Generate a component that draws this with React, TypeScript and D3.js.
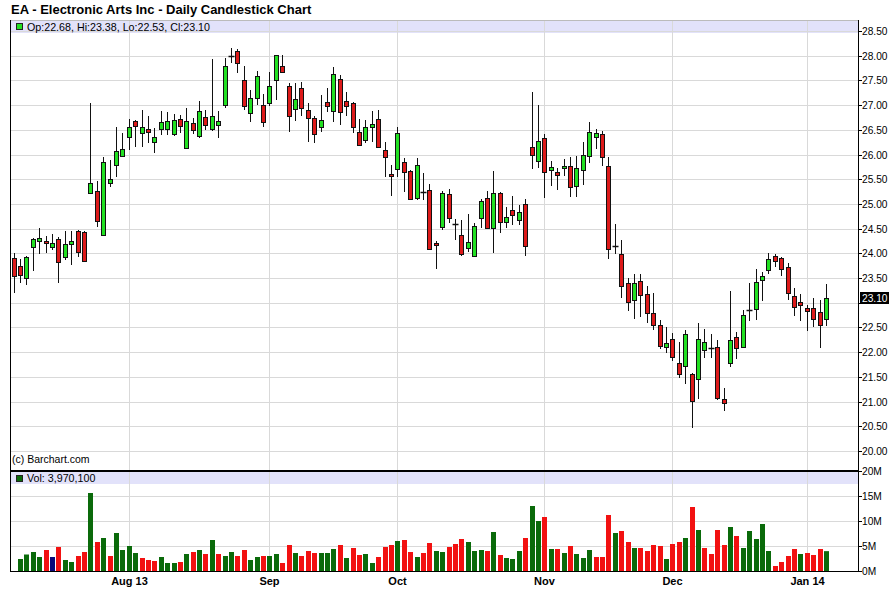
import * as d3 from "d3";

// daily OHLC, EA, Jul 8 2013 .. Jan 7 2014 (one entry per trading day)
const openP = [
  23.9, 23.74, 23.51, 24.12, 24.26, 24.26, 24.12, 24.3, 23.92, 24.18,
  24.46, 24.44, 25.23, 25.27, 24.38, 25.42, 25.78, 25.97, 26.35, 26.68,
  26.43, 26.51, 26.25, 26.51, 26.51, 26.41, 26.71, 26.14, 26.63, 26.37,
  26.75, 26.52, 26.59, 27.01, 27.99, 28.1, 27.51, 26.85, 27.14, 27.0,
  27.04, 27.5, 27.79, 27.38, 26.93, 27.34, 26.91, 26.73, 26.55, 27.06,
  26.88, 27.52, 27.08, 27.04, 26.45, 26.29, 26.55, 26.71, 26.09, 25.6,
  25.7, 25.84, 25.67, 25.13, 25.25, 25.28, 24.21, 24.54, 25.21, 24.59,
  24.37, 24.1, 23.95, 24.72, 25.12, 24.51, 25.23, 24.64, 24.88, 24.67,
  24.99, 26.15, 25.87, 26.33, 25.69, 25.64, 25.72, 25.76, 25.37, 25.68,
  25.97, 26.35, 26.41, 25.76, 24.15, 23.98, 23.39, 23.05, 23.45, 23.18,
  22.79, 22.54, 22.1, 22.27, 21.79, 21.73, 21.55, 21.45, 22.04, 22.09,
  22.1, 21.06, 21.79, 22.3, 22.11, 22.85, 22.87, 23.47, 23.66, 23.95,
  23.9, 23.72, 23.14, 23.01, 22.9, 22.89, 22.82, 22.68,
];
const highP = [
  24.0, 23.88, 23.95, 24.31, 24.51, 24.36, 24.4, 24.33, 24.46, 24.46,
  24.47, 24.45, 27.04, 25.46, 25.96, 25.89, 26.56, 26.43, 26.71, 26.7,
  26.9, 26.78, 26.53, 26.88, 26.87, 26.82, 26.8, 26.95, 26.73, 27.08,
  26.9, 27.93, 26.88, 27.95, 28.15, 28.14, 27.79, 27.31, 27.7, 27.22,
  27.68, 28.02, 28.01, 27.44, 27.44, 27.47, 27.04, 26.77, 27.2, 27.34,
  27.78, 27.6, 27.27, 27.06, 26.71, 26.69, 26.89, 26.9, 26.25, 25.79,
  26.56, 25.92, 25.69, 25.92, 25.62, 25.4, 24.25, 25.26, 25.3, 24.69,
  24.67, 24.8, 24.61, 25.09, 25.26, 25.67, 25.25, 24.94, 25.16, 24.97,
  25.09, 27.27, 27.0, 26.41, 25.87, 25.72, 25.91, 25.96, 25.98, 26.25,
  26.66, 26.51, 26.47, 25.96, 24.59, 24.27, 23.51, 23.59, 23.58, 23.34,
  23.2, 22.65, 22.5, 22.39, 22.2, 22.44, 21.57, 22.6, 22.46, 22.36,
  22.24, 21.27, 23.24, 22.4, 22.85, 23.39, 23.68, 23.63, 24.01, 23.98,
  23.93, 23.8, 23.29, 23.18, 22.95, 23.09, 23.05, 23.38,
];
const lowP = [
  23.19, 23.41, 23.35, 23.65, 23.99, 24.0, 24.07, 23.41, 23.86, 23.76,
  23.92, 23.82, 25.21, 24.53, 24.36, 25.35, 25.55, 25.94, 26.09, 26.16,
  26.16, 26.23, 26.04, 26.39, 26.39, 26.37, 26.43, 26.12, 26.41, 26.33,
  26.5, 26.48, 26.33, 26.95, 27.85, 27.64, 26.9, 26.66, 27.0, 26.56,
  26.98, 27.1, 27.65, 26.46, 26.67, 26.77, 26.26, 26.24, 26.45, 26.86,
  26.65, 26.6, 26.77, 26.43, 26.17, 26.23, 26.26, 26.15, 25.55, 25.17,
  25.55, 25.25, 25.08, 25.08, 25.08, 24.06, 23.68, 24.47, 24.61, 24.27,
  23.95, 24.03, 23.94, 24.52, 24.49, 24.01, 24.42, 24.51, 24.57, 24.57,
  23.95, 25.7, 25.72, 25.13, 25.36, 25.28, 25.57, 25.15, 25.15, 25.38,
  25.82, 26.12, 25.77, 23.88, 23.98, 23.1, 22.84, 22.68, 22.72, 22.6,
  22.45, 22.06, 21.99, 21.83, 21.48, 21.35, 20.47, 21.06, 21.89, 21.89,
  21.03, 20.8, 21.7, 21.87, 22.1, 22.64, 22.65, 23.03, 23.58, 23.73,
  23.55, 23.05, 22.74, 22.64, 22.43, 22.51, 22.09, 22.53,
];
const closeP = [
  23.55, 23.57, 23.92, 24.29, 24.32, 24.2, 24.2, 23.82, 24.18, 24.26,
  24.02, 23.84, 25.42, 24.65, 25.84, 25.5, 26.08, 26.12, 26.55, 26.58,
  26.55, 26.45, 26.35, 26.65, 26.67, 26.69, 26.57, 26.67, 26.49, 26.89,
  26.59, 26.77, 26.67, 27.79, 27.99, 27.86, 26.99, 27.14, 27.59, 26.65,
  27.39, 28.01, 27.68, 26.77, 27.12, 26.95, 26.73, 26.41, 26.69, 26.98,
  27.62, 26.87, 26.99, 26.55, 26.19, 26.56, 26.61, 26.16, 25.96, 25.56,
  26.43, 25.64, 25.09, 25.78, 25.25, 24.08, 24.16, 25.23, 24.72, 24.59,
  23.98, 24.22, 24.56, 25.05, 24.51, 25.23, 24.63, 24.74, 24.77, 24.84,
  24.14, 26.0, 26.27, 25.64, 25.74, 25.58, 25.76, 25.34, 25.72, 26.0,
  26.45, 26.43, 25.96, 24.08, 24.15, 23.34, 23.01, 23.41, 23.15, 22.79,
  22.55, 22.12, 22.18, 21.91, 21.55, 22.36, 21.02, 22.26, 22.2, 22.09,
  21.08, 20.98, 22.25, 22.08, 22.76, 22.85, 23.43, 23.55, 23.88, 23.84,
  23.68, 23.19, 22.91, 22.95, 22.84, 22.68, 22.54, 23.1,
];
// volume in millions (first day's bar is not shown)
const volumeM: (number | null)[] = [
  null, 2.4, 3.3, 3.8, 2.8, 4.2, 2.8, 4.8, 2.2, 1.8, 3.0,
  3.8, 15.6, 5.8, 6.6, 3.0, 7.6, 4.2, 5.0, 3.6, 2.6,
  2.2, 2.0, 2.8, 1.6, 1.6, 1.8, 3.4, 3.8, 4.2, 3.4,
  6.2, 3.4, 3.0, 3.8, 3.0, 4.2, 2.2, 2.8, 3.0, 3.0,
  3.4, 1.6, 5.2, 3.6, 3.0, 4.0, 3.6, 3.6, 3.6, 4.4,
  5.2, 2.6, 4.6, 3.2, 3.4, 1.6, 2.8, 4.8, 5.2, 6.0,
  6.2, 3.8, 2.8, 3.6, 5.6, 4.0, 3.8, 4.8, 5.4, 6.4,
  5.8, 4.0, 4.2, 4.0, 7.8, 3.2, 2.6, 2.4, 4.0, 6.6,
  13.0, 10.0, 10.8, 4.4, 4.4, 3.6, 5.0, 3.4, 2.6, 4.2,
  2.8, 2.8, 11.2, 7.6, 8.0, 5.8, 4.6, 4.6, 4.0, 5.2,
  5.0, 2.4, 5.4, 5.8, 6.6, 12.8, 8.2, 4.6, 3.4, 8.2,
  5.2, 8.8, 7.0, 4.6, 8.0, 6.4, 9.4, 4.0, 1.0, 1.8,
  3.0, 4.4, 3.4, 3.6, 3.2, 4.4, 3.97,
];
const monthIdx = [18, 40, 60, 83, 103, 124];
const monthLabels = ["Aug 13", "Sep", "Oct", "Nov", "Dec", "Jan 14"];
const volTicks = [0, 5, 10, 15, 20];
const lastVolume = "3,970,100";

const FONT = "'Liberation Sans', Arial, sans-serif";
const UP = "#22e022";
const DOWN = "#dd1a1a";
const GRID = "#d9d9d9";

export default function App() {
  const left = 10;
  const right = 858;
  const priceTop = 20;
  const priceBottom = 470;
  const volTop = 471;
  const volBottom = 571;
  const n = closeP.length;

  const x = d3.scaleLinear().domain([0, n - 1]).range([13.6, 825.9]);
  const y = d3.scaleLinear().domain([20, 28.5]).range([451, 31]);
  const yv = d3.scaleLinear().domain([0, 20]).range([volBottom, volTop]);
  const priceTicks = d3.ticks(20, 28.5, 17);
  const fmt = d3.format(".2f");
  const last = n - 1;

  const px = (i: number) => Math.round(x(i));
  const py = (v: number) => Math.round(y(v));
  const lastY = py(closeP[last]);

  const volColor = (i: number) => {
    if (closeP[i] > closeP[i - 1]) return "#0a6a0a";
    if (closeP[i] < closeP[i - 1]) return "#f21111";
    return "#0a0a7a";
  };

  return (
    <svg
      width={892}
      height={591}
      style={{ position: "absolute", left: 0, top: 0, background: "#fff" }}
      fontFamily={FONT}
    >
      <rect width={892} height={591} fill="#fff" />
      <text x={11} y={14} fontSize={13} fontWeight="bold" fill="#000">
        EA - Electronic Arts Inc - Daily Candlestick Chart
      </text>

      {/* header strips */}
      <rect x={left} y={priceTop} width={right - left} height={13} fill="#e2e2fa" />
      <rect x={left} y={volTop + 1} width={right - left} height={12} fill="#e2e2fa" />

      {/* price grid */}
      {priceTicks.map((t) => (
        <line key={"h" + t} x1={left} x2={right} y1={py(t) + 0.5} y2={py(t) + 0.5} stroke={GRID} />
      ))}
      {[5, 10, 15].map((t) => (
        <line key={"vh" + t} x1={left} x2={right} y1={Math.round(yv(t)) + 0.5} y2={Math.round(yv(t)) + 0.5} stroke={GRID} />
      ))}
      {monthIdx.map((m) => (
        <g key={"m" + m}>
          <line x1={px(m) + 0.5} x2={px(m) + 0.5} y1={priceTop} y2={priceBottom} stroke={GRID} />
          <line x1={px(m) + 0.5} x2={px(m) + 0.5} y1={volTop} y2={volBottom} stroke={GRID} />
        </g>
      ))}
      <line x1={left} x2={right} y1={priceTop + 0.5} y2={priceTop + 0.5} stroke="#bbb" />

      {/* volume bars */}
      {volumeM.map((v, i) =>
        v == null ? null : (
          <rect
            key={"v" + i}
            x={px(i) - 2}
            y={yv(v)}
            width={5}
            height={volBottom - yv(v)}
            fill={volColor(i)}
          />
        )
      )}

      {/* candles */}
      {closeP.map((c, i) => {
        const o = openP[i];
        const cx = px(i) + 0.5;
        const top = py(Math.max(o, c));
        const bot = py(Math.min(o, c));
        return (
          <g key={"c" + i}>
            <line x1={cx} x2={cx} y1={py(highP[i])} y2={py(lowP[i])} stroke="#111" />
            {o === c ? (
              <line x1={cx - 3} x2={cx + 3} y1={top + 0.5} y2={top + 0.5} stroke="#111" strokeWidth={1.5} />
            ) : (
              <rect
                x={cx - 2}
                y={top + 0.5}
                width={4}
                height={Math.max(1, bot - top)}
                fill={c > o ? UP : DOWN}
                stroke="#111"
              />
            )}
          </g>
        );
      })}

      {/* header texts */}
      <rect x={16.5} y={23.5} width={6} height={6} fill={UP} stroke="#222" />
      <text x={27} y={31} fontSize={10.7} fill="#000">
        {`Op:${fmt(openP[last])}, Hi:${fmt(highP[last])}, Lo:${fmt(lowP[last])}, Cl:${fmt(closeP[last])}`}
      </text>
      <rect x={16.5} y={475.5} width={6} height={6} fill="#0a6a0a" stroke="#222" />
      <text x={27} y={482} fontSize={10.7} fill="#000">
        {`Vol: ${lastVolume}`}
      </text>
      <text x={12} y={463} fontSize={10.5} fill="#000">(c) Barchart.com</text>

      {/* frame */}
      <line x1={left + 0.5} x2={left + 0.5} y1={priceTop} y2={volBottom + 1} stroke="#000" />
      <line x1={right + 0.5} x2={right + 0.5} y1={priceTop} y2={volBottom + 1} stroke="#000" />
      <line x1={left} x2={right + 1} y1={volTop} y2={volTop} stroke="#000" strokeWidth={2} />
      <line x1={left} x2={right + 1} y1={volBottom + 0.5} y2={volBottom + 0.5} stroke="#000" />

      {/* right price axis (labels hidden under the last-price box) */}
      {priceTicks.map((t) => (
        <g key={"pt" + t}>
          <line x1={right} x2={right + 4} y1={py(t) + 0.5} y2={py(t) + 0.5} stroke="#000" />
          {Math.abs(py(t) - lastY) > 10 && (
            <text x={862} y={py(t) + 4} fontSize={10.2} fill="#000">
              {fmt(t)}
            </text>
          )}
        </g>
      ))}
      <rect x={860} y={lastY - 6} width={29} height={12} fill="#000" />
      <text x={862} y={lastY + 4} fontSize={10.2} fill="#fff">
        {fmt(closeP[last])}
      </text>

      {/* right volume axis */}
      {volTicks.map((t) => (
        <g key={"vt" + t}>
          <line x1={right} x2={right + 4} y1={Math.round(yv(t)) + 0.5} y2={Math.round(yv(t)) + 0.5} stroke="#000" />
          <text x={862} y={Math.round(yv(t)) + 4} fontSize={10.2} fill="#000">
            {`${t}M`}
          </text>
        </g>
      ))}

      {/* month labels */}
      {monthIdx.map((m, k) => (
        <text key={"ml" + m} x={px(m) + 0.5} y={585} fontSize={11} fontWeight="bold" textAnchor="middle" fill="#000">
          {monthLabels[k]}
        </text>
      ))}
    </svg>
  );
}
